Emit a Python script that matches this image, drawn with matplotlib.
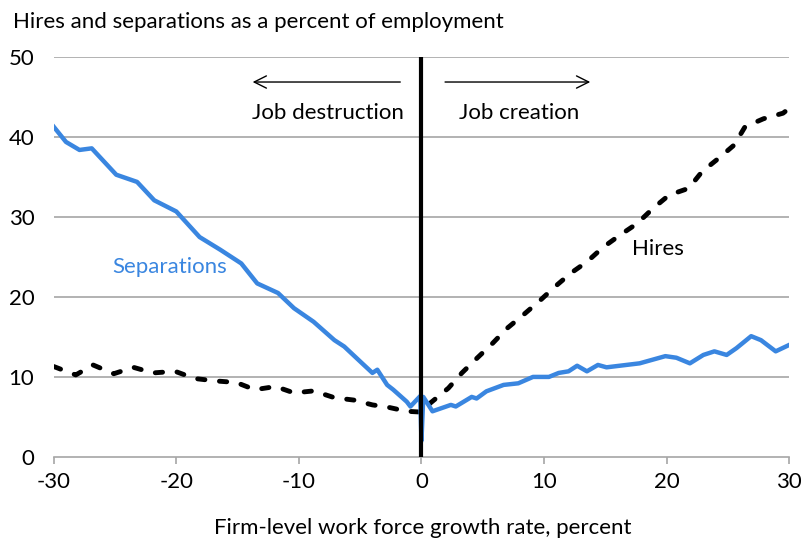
import numpy as np
import matplotlib.pyplot as plt

plt.rcParams['font.family'] = ['Lato', 'DejaVu Sans']
plt.rcParams['axes.unicode_minus'] = False

# firm-level growth rate (percent) and separations rate
sep_x = [-30, -29.0, -27.9, -26.9, -24.9, -23.2, -21.8, -20.0, -18.1, -16.4, -14.7,
         -13.4, -11.7, -10.4, -8.8, -7.1, -6.3, -4.7, -4.0, -3.6, -2.8, -2.3, -1.2,
         -0.9, -0.1, 0.0, 0.15, 0.9, 2.4, 2.8, 4.1, 4.5, 5.3, 6.7, 7.9, 9.1, 10.4,
         11.2, 12.0, 12.7, 13.5, 14.4, 15.1, 17.8, 19.9, 20.8, 21.9, 23.0, 23.9,
         24.9, 25.7, 26.9, 27.7, 28.9, 30]
sep_y = [41.3, 39.4, 38.4, 38.6, 35.3, 34.4, 32.1, 30.7, 27.5, 25.9, 24.2,
         21.7, 20.5, 18.6, 16.9, 14.6, 13.8, 11.5, 10.5, 10.9, 9.0, 8.4, 6.9,
         6.3, 7.6, 2.0, 7.5, 5.7, 6.5, 6.3, 7.5, 7.3, 8.2, 9.0, 9.2, 10.0, 10.0,
         10.5, 10.7, 11.4, 10.7, 11.5, 11.2, 11.7, 12.6, 12.4, 11.7, 12.75, 13.2,
         12.75, 13.6, 15.1, 14.6, 13.2, 14.0]

# hires rate
hire_x = [-30, -28.2, -26.8, -25.1, -23.5, -21.9, -20.1, -18.5, -16.8, -15.1, -13.6,
          -11.9, -10.4, -8.8, -7.1, -5.5, -4.0, -2.7, -1.2, 0.0, 0.7, 2.2, 3.3, 4.5,
          5.8, 7.0, 8.3, 9.7, 10.9, 12.2, 13.5, 14.8, 16.2, 17.6, 18.9, 20.2, 21.8,
          22.9, 24.2, 25.5, 26.4, 27.9, 29.5, 30]
hire_y = [11.3, 10.25, 11.5, 10.4, 11.2, 10.5, 10.7, 9.8, 9.5, 9.3, 8.4,
          8.8, 8.0, 8.25, 7.4, 7.1, 6.5, 6.2, 5.7, 5.6, 6.7, 8.6, 10.5, 12.3,
          14.2, 16.1, 17.75, 19.6, 21.3, 23.0, 24.4, 26.2, 27.75, 29.2, 31.1, 32.75, 33.6,
          35.7, 37.3, 39.0, 41.3, 42.3, 43.0, 43.6]

blue = '#3a86e0'
grid_c = '#a6a6a6'

fig = plt.figure(figsize=(8.02, 5.40), dpi=100)
ax = fig.add_axes([0.067, 0.154, 0.917, 0.740])

for v in [10, 20, 30, 40, 50]:
    ax.axhline(v, color=grid_c, lw=1.2, zorder=0)

ax.plot(hire_x, hire_y, color='black', lw=3.5, linestyle=(0, (1.5, 3.0)),
        dash_capstyle='round', zorder=3)
ax.plot(sep_x, sep_y, color=blue, lw=3.2, solid_joinstyle='round', zorder=4)
ax.plot([0, 0], [0, 50], color='black', lw=3, zorder=5)

ax.set_xlim(-30, 30)
ax.set_ylim(0, 50)
ax.set_xticks(range(-30, 31, 10))
ax.set_yticks(range(0, 51, 10))
for s in ['top', 'right', 'left']:
    ax.spines[s].set_visible(False)
ax.spines['bottom'].set_color(grid_c)
ax.spines['bottom'].set_linewidth(1.2)
ax.tick_params(axis='x', direction='out', length=5, width=1.2, color=grid_c,
               labelsize=16, pad=6)
ax.tick_params(axis='y', length=0, labelsize=16, pad=14)

ax.annotate('', xy=(-14.0, 46.9), xytext=(-1.5, 46.9),
            arrowprops=dict(arrowstyle='->', lw=1.0, color='black', mutation_scale=22))
ax.annotate('', xy=(14.0, 46.9), xytext=(1.7, 46.9),
            arrowprops=dict(arrowstyle='->', lw=1.0, color='black', mutation_scale=22))
ax.text(-1.4, 43.0, 'Job destruction', ha='right', va='center', fontsize=16)
ax.text(3.1, 43.0, 'Job creation', ha='left', va='center', fontsize=16)
ax.text(-25.2, 23.7, 'Separations', ha='left', va='center', fontsize=16, color=blue)
ax.text(17.2, 26.0, 'Hires', ha='left', va='center', fontsize=16)

fig.text(0.016, 0.948, 'Hires and separations as a percent of employment',
         ha='left', va='baseline', fontsize=16)
fig.text(0.527, 0.012, 'Firm-level work force growth rate, percent',
         ha='center', va='baseline', fontsize=16)

fig.savefig('out.png', dpi=100)
